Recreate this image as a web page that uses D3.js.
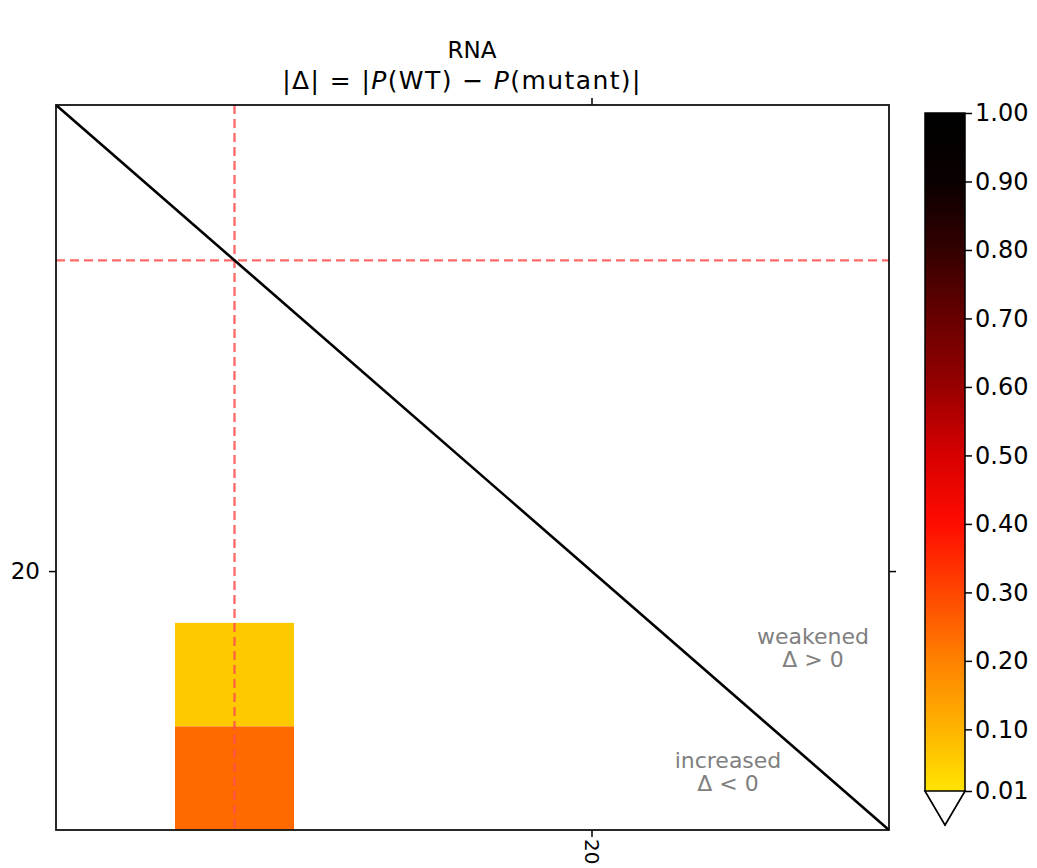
<!DOCTYPE html>
<html><head><meta charset="utf-8">
<script src="https://cdn.jsdelivr.net/npm/d3@7"></script>
<style>body{margin:0;background:#fff}svg{display:block}text{font-family:"DejaVu Sans",sans-serif}</style>
</head><body><svg id="c" width="1037" height="868"></svg>
<script>
// data
const positions = [16, 17, 18, 19, 20, 21, 22];
const tickPositions = [20];
const cellX = [17, 17];
const cellY = [21, 22];
const cellValues = [0.06, 0.24];
const mutationPos = 17;
const cbTicks = [0.01, 0.10, 0.20, 0.30, 0.40, 0.50, 0.60, 0.70, 0.80, 0.90, 1.00];
const cmapDomain = [0.01, 0.10, 0.20, 0.30, 0.40, 0.50, 0.60, 0.70, 0.80, 0.90, 1.00];
const cmapColors = ["#ffe400", "#ffb400", "#ff8200", "#ff4600", "#ff0c00", "#d80000", "#980000", "#680000", "#340000", "#0a0000", "#000000"];

const svg = d3.select("#c");
const L = 56, R = 889, T = 105, B = 830;
const x = d3.scaleLinear().domain([d3.min(positions) - 0.5, d3.max(positions) + 0.5]).range([L, R]);
const y = d3.scaleLinear().domain([d3.min(positions) - 0.5, d3.max(positions) + 0.5]).range([T, B]);
const color = d3.scaleLinear().domain(cmapDomain).range(cmapColors).clamp(true);

// title
svg.append("text").attr("x", 472).attr("y", 58).attr("text-anchor", "middle").attr("font-size", 23).text("RNA");
const t2 = svg.append("text").attr("x", 462).attr("y", 89).attr("text-anchor", "middle").attr("font-size", 25)
  .attr("letter-spacing", 1.4);
t2.append("tspan").text("|Δ| = |");
t2.append("tspan").attr("font-style", "italic").text("P");
t2.append("tspan").text("(WT) − ");
t2.append("tspan").attr("font-style", "italic").text("P");
t2.append("tspan").text("(mutant)|");

// cells
svg.append("g").selectAll("rect").data(cellValues).join("rect")
  .attr("x", (d, i) => x(cellX[i] - 0.5))
  .attr("y", (d, i) => y(cellY[i] - 0.5))
  .attr("width", (d, i) => x(cellX[i] + 0.5) - x(cellX[i] - 0.5))
  .attr("height", (d, i) => y(cellY[i] + 0.5) - y(cellY[i] - 0.5))
  .attr("fill", d => color(d));

// dashed mutation lines
svg.append("line").attr("x1", x(mutationPos)).attr("x2", x(mutationPos)).attr("y1", T).attr("y2", B)
  .attr("stroke", "#ff4d4d").attr("stroke-opacity", 0.85).attr("stroke-width", 2.3).attr("stroke-dasharray", "9,5");
svg.append("line").attr("y1", y(mutationPos)).attr("y2", y(mutationPos)).attr("x1", L).attr("x2", R)
  .attr("stroke", "#ff4d4d").attr("stroke-opacity", 0.85).attr("stroke-width", 2.3).attr("stroke-dasharray", "9,5");

// diagonal
svg.append("line").attr("x1", x(15.5)).attr("y1", y(15.5)).attr("x2", x(22.5)).attr("y2", y(22.5))
  .attr("stroke", "#000").attr("stroke-width", 2.6);

// annotations
const ann = svg.append("g").attr("fill", "#808080").attr("font-size", 22).attr("text-anchor", "middle");
ann.append("text").attr("x", 813).attr("y", 644).text("weakened");
ann.append("text").attr("x", 813).attr("y", 667).text("Δ > 0");
ann.append("text").attr("x", 728).attr("y", 768).text("increased");
ann.append("text").attr("x", 728).attr("y", 791).text("Δ < 0");

// axes
const fs = 23;
const gB = svg.append("g").attr("transform", `translate(0,${B})`)
  .call(d3.axisBottom(x).tickValues(tickPositions).tickSize(7).tickPadding(4).tickFormat(d3.format("d")));
const gT = svg.append("g").attr("transform", `translate(0,${T})`)
  .call(d3.axisTop(x).tickValues(tickPositions).tickSize(7).tickFormat(""));
const gL = svg.append("g").attr("transform", `translate(${L},0)`)
  .call(d3.axisLeft(y).tickValues(tickPositions).tickSize(7).tickPadding(9).tickFormat(d3.format("d")));
const gR = svg.append("g").attr("transform", `translate(${R},0)`)
  .call(d3.axisRight(y).tickValues(tickPositions).tickSize(7).tickFormat(""));
[gB, gT, gL, gR].forEach(g => {
  g.select(".domain").remove();
  g.selectAll("line").attr("stroke", "#000").attr("stroke-width", 1.5);
  g.selectAll("text").attr("font-size", fs).attr("font-family", "DejaVu Sans").attr("fill", "#000");
});
gB.selectAll("text").attr("transform", "rotate(90)").attr("x", 9).attr("y", 0).attr("dy", "0.35em")
  .attr("text-anchor", "start").attr("font-size", 20);
// frame
svg.append("rect").attr("x", L).attr("y", T).attr("width", R - L).attr("height", B - T)
  .attr("fill", "none").attr("stroke", "#111").attr("stroke-width", 1.8);

// colorbar
const cbL = 925, cbR = 965, cbT = 113, cbB = 791;
const cy = d3.scaleLinear().domain([0.01, 1.0]).range([cbB, cbT]);
const defs = svg.append("defs");
const grad = defs.append("linearGradient").attr("id", "cg").attr("x1", 0).attr("x2", 0).attr("y1", 1).attr("y2", 0);
grad.selectAll("stop").data(cmapDomain).join("stop")
  .attr("offset", d => (d - 0.01) / 0.99).attr("stop-color", (d, i) => cmapColors[i]);
svg.append("rect").attr("x", cbL).attr("y", cbT).attr("width", cbR - cbL).attr("height", cbB - cbT).attr("fill", "url(#cg)");
svg.append("path").attr("d", `M${cbL},${cbT}L${cbR},${cbT}L${cbR},${cbB}L${(cbL + cbR) / 2},${cbB + 34}L${cbL},${cbB}Z`)
  .attr("fill", "none").attr("stroke", "#000").attr("stroke-width", 1.5);
svg.append("path").attr("d", `M${cbL},${cbB}L${cbR},${cbB}L${(cbL + cbR) / 2},${cbB + 34}Z`)
  .attr("fill", "#fff").attr("stroke", "#000").attr("stroke-width", 1.5);
const gC = svg.append("g").attr("transform", `translate(${cbR},0)`)
  .call(d3.axisRight(cy).tickValues(cbTicks).tickSize(7).tickPadding(3).tickFormat(d3.format(".2f")));
gC.select(".domain").remove();
gC.selectAll("line").attr("stroke", "#000").attr("stroke-width", 1.5);
gC.selectAll("text").attr("font-size", 24).attr("font-family", "DejaVu Sans").attr("fill", "#000");
</script></body></html>
